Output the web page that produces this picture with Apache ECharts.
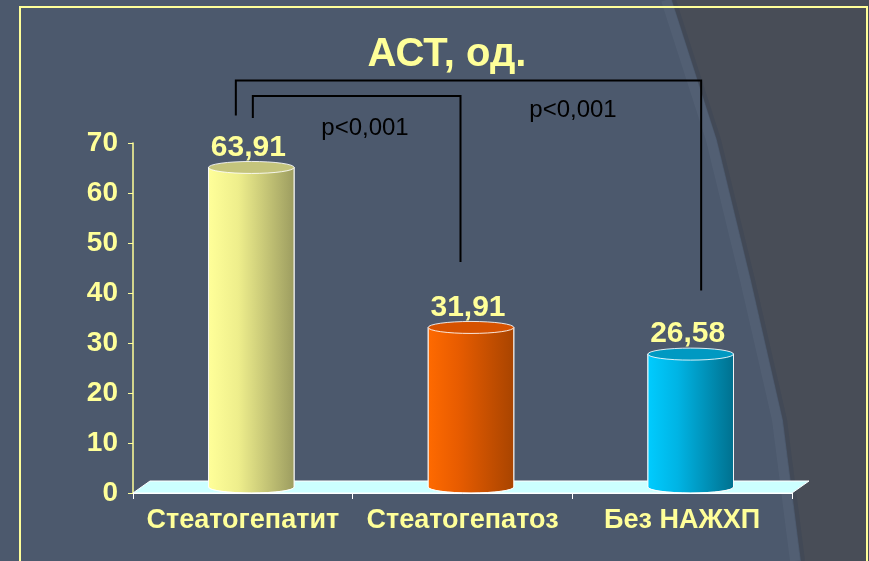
<!DOCTYPE html>
<html>
<head>
<meta charset="utf-8">
<script src="https://cdn.jsdelivr.net/npm/echarts@6/dist/echarts.min.js"></script>
<style>
  html, body { margin: 0; padding: 0; background: #4c596d; }
  #main { width: 869px; height: 561px; }
</style>
</head>
<body>
<div id="main"></div>
<script>
// данные
var categories = ['Стеатогепатит', 'Стеатогепатоз', 'Без НАЖХП']
var values = [63.91, 31.91, 26.58]
var valueLabels = ['63,91', '31,91', '26,58']
var yTicks = [0, 10, 20, 30, 40, 50, 60, 70]
var pLabels = ['p<0,001', 'p<0,001']

// цвета цилиндров: светлый, средний, тёмный, верх
var barColors = [
  ['#ffff99', '#eeee8c', '#9c9c60', '#c4c47c'],
  ['#ff6a00', '#e85c00', '#a84400', '#d65200'],
  ['#00ccff', '#00b4e4', '#00708e', '#0099c2']
]

var DX = 17, DY = 12 // глубина 3D
var FONT = '"Liberation Sans", Arial, sans-serif'

var chart = echarts.init(document.getElementById('main'))

function ellipsePath (cx, cy, rx, ry) {
  return 'M' + (cx - rx) + ' ' + cy +
    ' A' + rx + ' ' + ry + ' 0 1 0 ' + (cx + rx) + ' ' + cy +
    ' A' + rx + ' ' + ry + ' 0 1 0 ' + (cx - rx) + ' ' + cy + ' Z'
}

function renderCylinder (params, api) {
  var idx = api.value(0)
  var top = api.coord([idx, api.value(1)])
  var base = api.coord([idx, 0])
  var band = api.size([1, 0])[0]
  var w = band * 0.39
  var cx = top[0] + DX / 2
  var ty = top[1] - DY / 2
  var by = base[1] - DY / 2
  var rx = w / 2, ry = 6
  var c = barColors[idx]
  var grad = {
    type: 'linear', x: 0, y: 0, x2: 1, y2: 0,
    colorStops: [
      { offset: 0, color: c[0] },
      { offset: 0.35, color: c[1] },
      { offset: 1, color: c[2] }
    ]
  }
  var body = 'M' + (cx - rx) + ' ' + ty +
    ' L' + (cx - rx) + ' ' + by +
    ' A' + rx + ' ' + ry + ' 0 0 0 ' + (cx + rx) + ' ' + by +
    ' L' + (cx + rx) + ' ' + ty + ' Z'
  return {
    type: 'group',
    children: [
      {
        type: 'path',
        shape: { pathData: body },
        style: { fill: grad, stroke: 'rgba(255,255,255,0.75)', lineWidth: 1 }
      },
      {
        type: 'path',
        shape: { pathData: ellipsePath(cx, ty, rx, ry) },
        style: { fill: c[3], stroke: 'rgba(255,255,255,0.85)', lineWidth: 1 }
      },
      {
        type: 'text',
        style: {
          text: valueLabels[idx],
          x: cx - 3,
          y: ty - 20,
          align: 'center',
          verticalAlign: 'middle',
          fill: '#ffff99',
          font: 'bold 30px ' + FONT
        }
      }
    ]
  }
}

function renderFloor (params, api) {
  if (api.value(0) !== 0) return null
  var cs = params.coordSys
  var y0 = api.coord([0, 0])[1]
  var x0 = cs.x, x1 = cs.x + cs.width
  return {
    type: 'polygon',
    shape: { points: [[x0, y0], [x0 + DX, y0 - DY], [x1 + DX, y0 - DY], [x1, y0]] },
    style: { fill: '#ccffff', stroke: '#ffffff', lineWidth: 1 }
  }
}

var data = values.map(function (v, i) { return [i, v] })
// граница тёмной области фона
var edgePts = [[672, 0], [717, 140], [751, 280], [783, 420], [801, 561]]

chart.setOption({
  backgroundColor: '#4c596d',
  graphic: [
    {
      type: 'polyline',
      id: 'glow',
      silent: true,
      z: -11,
      shape: { points: edgePts.map(function (p) { return [p[0] - 6, p[1]] }) },
      style: { fill: null, stroke: 'rgba(95,108,128,0.3)', lineWidth: 10 }
    },
    {
      type: 'polygon',
      id: 'dark',
      silent: true,
      z: -10,
      shape: { points: edgePts.concat([[869, 561], [869, 0]]) },
      style: { fill: '#484d57' }
    },
    {
      type: 'polyline',
      id: 'shade',
      silent: true,
      z: -10,
      shape: { points: edgePts.map(function (p) { return [p[0] + 2, p[1]] }) },
      style: { fill: null, stroke: 'rgba(60,70,85,0.5)', lineWidth: 4 }
    },
    {
      type: 'rect',
      id: 'frame',
      silent: true,
      z: -5,
      shape: { x: 20, y: 7, width: 847, height: 570 },
      style: { fill: null, stroke: '#ffff99', lineWidth: 2 }
    }
  ],
  title: {
    text: 'АСТ, од.',
    left: 442,
    top: 30,
    textAlign: 'center',
    textStyle: { color: '#ffff99', fontSize: 40, fontWeight: 'bold', fontFamily: FONT }
  },
  grid: { left: 133, right: 77, top: 143, bottom: 68 },
  xAxis: {
    type: 'category',
    data: categories,
    axisLine: { lineStyle: { color: '#ffffff', width: 1 } },
    axisTick: { show: true, length: 6, lineStyle: { color: '#ffffff' } },
    axisLabel: {
      interval: 0,
      hideOverlap: false,
      color: '#ffff99',
      fontSize: 27,
      fontWeight: 'bold',
      fontFamily: FONT,
      margin: 14
    }
  },
  yAxis: {
    type: 'value',
    min: yTicks[0],
    max: yTicks[yTicks.length - 1],
    interval: 10,
    splitLine: { show: false },
    axisLine: { show: true, lineStyle: { color: '#ffff99', width: 1.5 } },
    axisTick: { show: true, length: 5, lineStyle: { color: '#ffff99' } },
    axisLabel: {
      color: '#ffff99',
      fontSize: 28,
      fontWeight: 'bold',
      fontFamily: FONT,
      margin: 15
    }
  },
  series: [
    {
      type: 'custom',
      renderItem: renderFloor,
      data: data,
      z: 1,
      silent: true
    },
    {
      type: 'custom',
      renderItem: renderCylinder,
      data: data,
      z: 3,
      silent: true
    }
  ]
})

// скобки сравнения
function px (i, v) { return chart.convertToPixel({ seriesIndex: 1 }, [i, v]) }
var b0 = px(0, 0), b1 = px(1, 0), b2 = px(2, 0)
var ys = function (v) { return px(0, v)[1] }
var lineStyle = { stroke: '#000000', lineWidth: 2, fill: null }
chart.setOption({
  graphic: [
    {
      type: 'polyline',
      id: 'br1',
      silent: true,
      shape: { points: [[b0[0] - 7, ys(75.5)], [b0[0] - 7, ys(82.5)], [b2[0] + 19, ys(82.5)], [b2[0] + 19, ys(40.5)]] },
      style: lineStyle
    },
    {
      type: 'polyline',
      id: 'br2',
      silent: true,
      shape: { points: [[b0[0] + 10, ys(75)], [b0[0] + 10, ys(79.4)], [b1[0] - 2, ys(79.4)], [b1[0] - 2, ys(46.2)]] },
      style: lineStyle
    },
    {
      type: 'text',
      id: 'p1',
      silent: true,
      style: { text: pLabels[0], x: 365, y: 128, align: 'center', verticalAlign: 'middle', fill: '#000000', font: '24px ' + FONT }
    },
    {
      type: 'text',
      id: 'p2',
      silent: true,
      style: { text: pLabels[1], x: 573, y: 110, align: 'center', verticalAlign: 'middle', fill: '#000000', font: '24px ' + FONT }
    }
  ]
})
</script>
</body>
</html>
